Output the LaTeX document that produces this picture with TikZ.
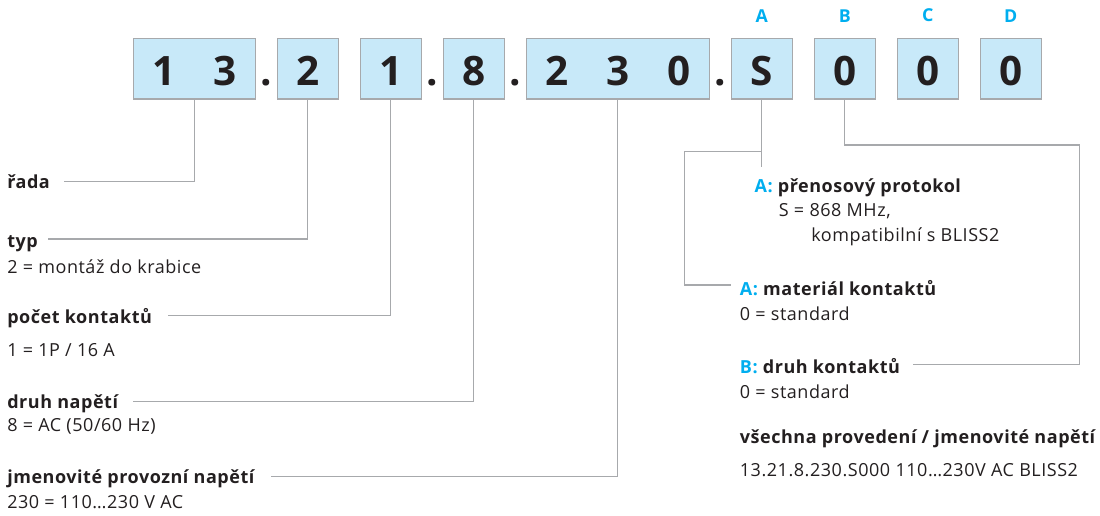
\documentclass[tikz,border=0pt]{standalone}
\usepackage{fontspec}
\setmainfont{Open Sans}[LetterSpace=3]
\usepackage{tikz}
\usetikzlibrary{positioning,calc}
\definecolor{boxblue}{HTML}{C8E9F9}
\definecolor{boxgray}{HTML}{A7A9AC}
\definecolor{leadgray}{HTML}{A7A9AC}
\definecolor{inkblack}{HTML}{231F20}
\definecolor{keycyan}{HTML}{00AEEF}
\newcommand{\cell}[1]{\makebox[61pt]{#1}}
\newcommand{\key}[1]{\textcolor{keycyan}{#1}}

\begin{document}
\begin{tikzpicture}[x=1pt,y=-1pt,node distance=22pt,line width=1.2pt,text=inkblack]
\tikzstyle{digit}=[inner sep=0pt,outer sep=0pt,text height=47.4pt,text depth=13.3pt,font=\fontsize{40.5}{40.5}\selectfont\bfseries]
\tikzstyle{codebox}=[digit,draw=boxgray,fill=boxblue]
\tikzstyle{sep}=[digit,minimum width=22pt]
\tikzstyle{letter}=[inner sep=0pt,text=keycyan,font=\fontsize{17.8}{17.8}\selectfont\bfseries]
\tikzstyle{head}=[inner sep=0pt,anchor=base west,font=\fontsize{18}{18}\selectfont\bfseries]
\tikzstyle{value}=[inner sep=0pt,anchor=base west,font=\fontsize{18}{18}\selectfont]
\tikzstyle{lead}=[draw=leadgray]
\useasboundingbox (0,0) rectangle (1100,516);
\node[codebox,anchor=north west] (b13) at (133.3,38.3) {\cell{1}\cell{3}};
\node[sep,right=0pt of b13] (d1) {.};
\node[codebox,right=0pt of d1] (b2) {\cell{2}};
\node[codebox,right=of b2] (b1) {\cell{1}};
\node[sep,right=0pt of b1] (d2) {.};
\node[codebox,right=0pt of d2] (b8) {\cell{8}};
\node[sep,right=0pt of b8] (d3) {.};
\node[codebox,right=0pt of d3] (b230) {\cell{2}\cell{3}\cell{0}};
\node[sep,right=0pt of b230] (d4) {.};
\node[codebox,right=0pt of d4] (bS) {\cell{S}};
\node[codebox,right=of bS] (bB) {\cell{0}};
\node[codebox,right=of bB] (bC) {\cell{0}};
\node[codebox,right=of bC] (bD) {\cell{0}};
\node[letter,above=15.6pt of bS] (kA) {A};
\node[letter,above=15.6pt of bB] (kB) {B};
\node[letter,above=15.6pt of bC] (kC) {C};
\node[letter,above=15.6pt of bD] (kD) {D};

\node[head] (rada) at (6.7,188.3) {řada};
\node[head] (typ) at (6.7,247) {typ};
\node[value] (typv) at (6.7,273.3) {2 = montáž do krabice};
\node[head] (pocet) at (6.7,323.3) {počet kontaktů};
\node[value] (pocetv) at (6.7,356.7) {1 = 1P / 16 A};
\node[head] (druh) at (6.7,408.3) {druh napětí};
\node[value] (druhv) at (6.7,431.7) {8 = AC (50/60 Hz)};
\node[head] (jmen) at (6.7,483.3) {jmenovité provozní napětí};
\node[value] (jmenv) at (6.7,508.3) {230 = 110…230 V AC};

\node[head] (protA) at (754,192.7) {\key{A:} přenosový protokol};
\node[value] (protS) at (778.3,216.7) {S = 868 MHz,};
\node[value] (protK) at (810.7,241.7) {kompatibilní s BLISS2};
\node[head] (matA) at (739.3,295) {\key{A:} materiál kontaktů};
\node[value] (matv) at (739.3,320) {0 = standard};
\node[head] (kontB) at (739.3,373.3) {\key{B:} druh kontaktů};
\node[value] (kontv) at (739.3,398.3) {0 = standard};
\node[head] (vse) at (739.3,443.3) {všechna provedení / jmenovité napětí};
\node[value] (vsev) at (739.3,476.7) {13.21.8.230.S000 110…230V AC BLISS2};

\draw[lead] (b13.south) |- ([xshift=14pt,yshift=7pt]rada.base east);
\draw[lead] (b2.south) |- ([xshift=10pt,yshift=8pt]typ.base east);
\draw[lead] (b1.south) |- ([xshift=15pt,yshift=8pt]pocet.base east);
\draw[lead] (b8.south) |- ([xshift=14pt,yshift=7pt]druh.base east);
\draw[lead] (b230.south) |- ([xshift=16pt,yshift=7pt]jmen.base east);
\coordinate (split) at ([yshift=-52.7pt]bS.south);
\draw[lead] (bS.south) -- ++(0,67.7);
\draw[lead] (split) -| ([xshift=-55pt,yshift=10pt]matA.base west) -- ([xshift=-8pt,yshift=10pt]matA.base west);
\coordinate (bturn) at ([xshift=38.3pt,yshift=-46pt]bD.south east);
\draw[lead] (bB.south) |- (bturn) |- ([xshift=12pt,yshift=9pt]kontB.base east);
\end{tikzpicture}
\end{document}
